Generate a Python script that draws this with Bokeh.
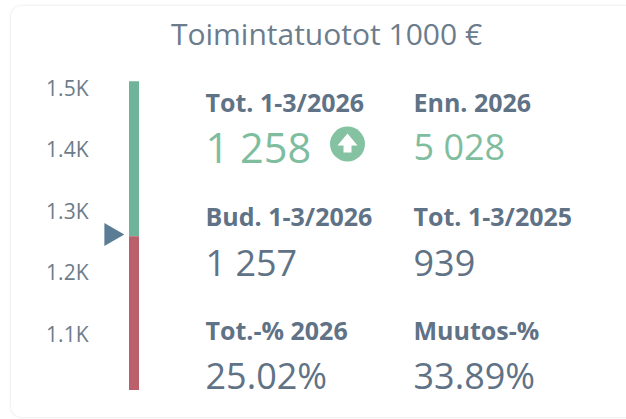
from math import pi
from bokeh.embed import file_html
from bokeh.resources import INLINE
from bokeh.plotting import figure
from bokeh.models import Range1d, FixedTicker
from bokeh.core.properties import value

W, H = 626, 419
title = "Toimintatuotot 1000 €"
tick_values = [1100, 1200, 1300, 1400, 1500]
tick_labels = ["1.1K", "1.2K", "1.3K", "1.4K", "1.5K"]
axis_min, axis_max = 1008, 1510
actual = 1258
target = 1261
kpi_labels = ["Tot. 1-3/2026", "Enn. 2026", "Bud. 1-3/2026", "Tot. 1-3/2025", "Tot.-% 2026", "Muutos-%"]
kpi_values = ["1 258", "5 028", "1 257", "939", "25.02%", "33.89%"]

GREY = "#5f7286"
GREEN = "#7fbd9f"
FONT = value("Open Sans")

per_px = 100 / 61.5
vtop = 1500 + 87 * per_px
vbot = 1500 - (H - 87) * per_px
FRAME_LEFT = 92

card_css = """
:host { position: relative; }
:host::before { content: ""; position: absolute; left: 10px; top: 5px; width: 616px; height: 413px;
  box-sizing: border-box; border: 1px solid #f3f3f3; border-right: none; border-radius: 12px 0 0 12px;
  box-shadow: 0 0 3px rgba(0,0,0,0.05); }
"""

p = figure(width=W, height=H, output_backend="svg", toolbar_location=None,
           x_range=Range1d(FRAME_LEFT, W), y_range=Range1d(vbot, vtop),
           min_border=0, min_border_left=FRAME_LEFT, x_axis_location=None,
           stylesheets=[card_css])
p.extra_y_ranges["px"] = Range1d(H, 0)
p.outline_line_color = None
p.grid.visible = False
p.background_fill_color = None
p.border_fill_color = None

ax = p.yaxis[0]
ax.ticker = FixedTicker(ticks=tick_values)
ax.major_label_overrides = dict(zip(tick_values, tick_labels))
ax.axis_line_color = None
ax.major_tick_line_color = None
ax.minor_tick_line_color = None
ax.major_tick_out = 0
ax.major_tick_in = 0
ax.major_label_text_font = "Open Sans"
ax.major_label_text_font_size = "21px"
ax.major_label_text_color = "#6d7c8a"
ax.major_label_standoff = 4

p.vbar(x=[133.5], width=10, bottom=[actual], top=[axis_max], fill_color="#6fb39b", line_color=None)
p.vbar(x=[133.5], width=10, bottom=[axis_min], top=[actual], fill_color="#b9606b", line_color=None)
p.scatter(x=[110.5], y=[target], marker="triangle", size=23, angle=-pi / 2,
          fill_color="#5b7c95", line_color=None)

p.text(x=[326], y=[33], y_range_name="px", text=[title], text_font=FONT, text_font_size="30px",
       text_color="#6b7c8c", text_align="center", text_baseline="middle")

cols = [205, 413]
label_y = [101, 215, 329]
value_y = [146, 262, 375]
for i, (lab, val) in enumerate(zip(kpi_labels, kpi_values)):
    x = cols[i % 2]
    r = i // 2
    p.text(x=[x], y=[label_y[r]], y_range_name="px", text=[lab], text_font=FONT, text_font_style="bold",
           text_font_size="25px", text_color=GREY, text_align="left", text_baseline="middle")
    color = GREEN if r == 0 else GREY
    size = "41.5px" if i == 0 else "36px"
    p.text(x=[x], y=[value_y[r]], y_range_name="px", text=[val], text_font=FONT, text_font_size=size,
           text_color=color, text_align="left", text_baseline="middle")

p.scatter(x=[347], y=[143.5], y_range_name="px", marker="circle", size=35, fill_color="#85c2a2", line_color=None)
cx, cy = 347, 143.5
arrow_dx = [0, 10, 4, 4, -4, -4, -10]
arrow_dy = [-10.5, 1.5, 1.5, 8.5, 8.5, 1.5, 1.5]
p.patch(x=[cx + d for d in arrow_dx], y=[cy + d for d in arrow_dy], y_range_name="px",
        fill_color="white", line_color=None)

open("out.html", "w").write(file_html(p, INLINE))
